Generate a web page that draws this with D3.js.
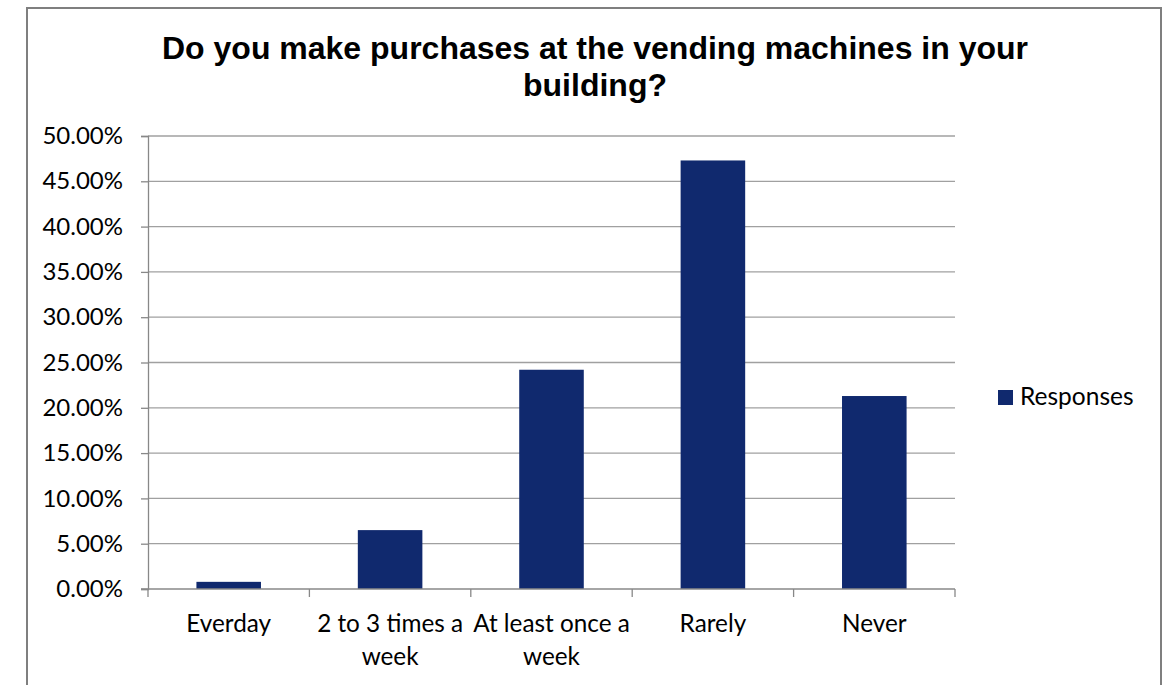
<!DOCTYPE html>
<html><head><meta charset="utf-8">
<script src="https://cdn.jsdelivr.net/npm/d3@7"></script>
<style>body{margin:0;background:#fff}svg{display:block}</style>
</head><body>
<svg id="c" width="1169" height="685"></svg>
<script>
const categories = [["Everday"], ["2 to 3 times a", "week"], ["At least once a", "week"], ["Rarely"], ["Never"]];
const values = [0.0079, 0.065, 0.242, 0.473, 0.213];
const yTicks = [0, 0.05, 0.10, 0.15, 0.20, 0.25, 0.30, 0.35, 0.40, 0.45, 0.50];
const titleLines = ["Do you make purchases at the vending machines in your", "building?"];
const seriesName = "Responses";

const svg = d3.select("#c");
const labelFont = "Lato, 'Open Sans', sans-serif";
svg.append("rect").attr("x", 27).attr("y", 8).attr("width", 1134).attr("height", 690)
  .attr("fill", "#fff").attr("stroke", "#7f7f7f").attr("stroke-width", 2);

const x = d3.scaleBand().domain(d3.range(categories.length)).range([148, 955]).paddingInner(0.6).paddingOuter(0.3);
const y = d3.scaleLinear().domain([0, 0.5]).range([589, 136]);

// gridlines
svg.append("g").selectAll("line").data(yTicks.filter(d => d > 0)).join("line")
  .attr("x1", 148).attr("x2", 955).attr("y1", d => y(d)).attr("y2", d => y(d))
  .attr("stroke", "#a0a0a0").attr("stroke-width", 1.3);

// y axis
const ya = svg.append("g").attr("transform", "translate(148,0)")
  .call(d3.axisLeft(y).tickValues(yTicks).tickSize(7).tickPadding(18).tickFormat(d => (d * 100).toFixed(2) + "%"));
ya.select(".domain").attr("stroke", "#888").attr("stroke-width", 1.3);
ya.selectAll(".tick line").attr("stroke", "#888").attr("stroke-width", 1.3);
ya.selectAll("text").attr("font-family", labelFont).attr("font-size", 24).attr("fill", "#000");

// bars
svg.append("g").selectAll("rect").data(values).join("rect")
  .attr("x", (d, i) => x(i)).attr("width", x.bandwidth())
  .attr("y", d => y(d)).attr("height", d => y(0) - y(d))
  .attr("fill", "#10296e");

// x axis
const bandStep = (955 - 148) / categories.length;
const xEdge = d3.scaleLinear().domain([0, categories.length]).range([148, 955]);
const xa = svg.append("g");
xa.append("line").attr("x1", 141).attr("x2", 955).attr("y1", y(0)).attr("y2", y(0))
  .attr("stroke", "#888").attr("stroke-width", 1.3);
xa.selectAll("line.t").data(d3.range(categories.length + 1)).join("line").attr("class", "t")
  .attr("x1", d => xEdge(d)).attr("x2", d => xEdge(d)).attr("y1", y(0)).attr("y2", y(0) + 8)
  .attr("stroke", "#888").attr("stroke-width", 1.3);
const lab = xa.selectAll("text").data(categories).join("text")
  .attr("text-anchor", "middle").attr("font-family", labelFont).attr("font-size", 24.3).attr("fill", "#000");
lab.selectAll("tspan").data((d, i) => d.map(s => ({s, i}))).join("tspan")
  .attr("x", d => xEdge(d.i) + bandStep / 2).attr("y", (d, j) => 632 + j * 33).text(d => d.s);

// title
svg.append("text").attr("text-anchor", "middle").attr("font-family", "'Liberation Sans', Arial, sans-serif")
  .attr("font-weight", "bold").attr("font-size", 32).attr("fill", "#000")
  .selectAll("tspan").data(titleLines).join("tspan")
  .attr("x", 595).attr("y", (d, i) => 59 + i * 37).text(d => d);

// legend
svg.append("rect").attr("x", 998).attr("y", 390).attr("width", 15).attr("height", 15).attr("fill", "#10296e");
svg.append("text").attr("x", 1020).attr("y", 405).attr("font-family", labelFont).attr("font-size", 24.5)
  .attr("fill", "#000").text(seriesName);
</script>
</body></html>
